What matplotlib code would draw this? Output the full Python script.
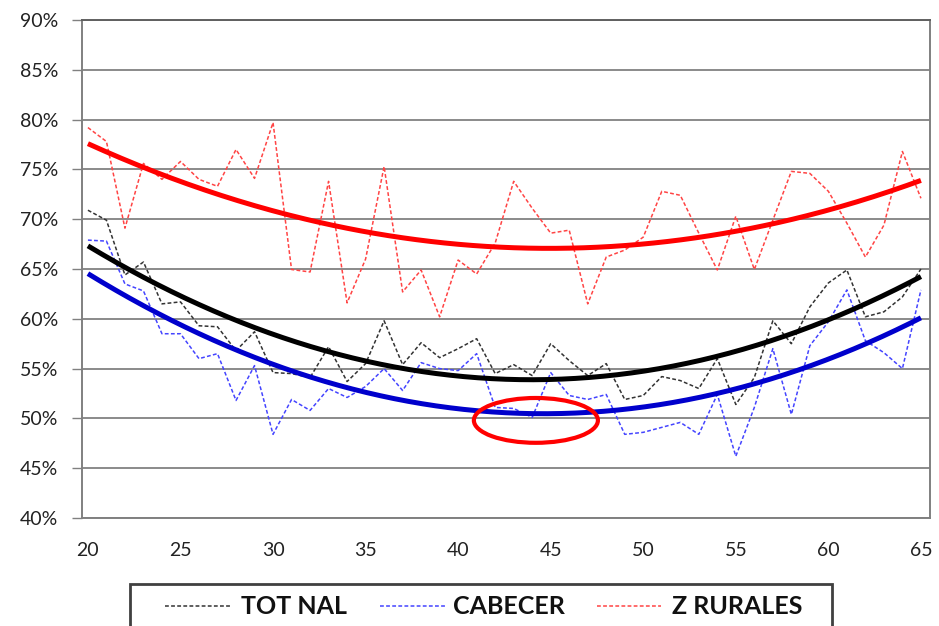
import numpy as np
import matplotlib
matplotlib.use("Agg")
import matplotlib.pyplot as plt
from matplotlib.patches import Ellipse, Rectangle
from matplotlib.lines import Line2D
from matplotlib.ticker import FuncFormatter

ages = list(range(20, 66))
tot_nal = [70.9, 69.9, 64.4, 65.7, 61.5, 61.7, 59.3, 59.2, 56.8, 58.7,
           54.6, 54.5, 54.1, 57.2, 53.7, 55.5, 59.8, 55.4, 57.6, 56.1,
           57.0, 58.0, 54.5, 55.4, 54.3, 57.5, 55.8, 54.3, 55.5, 51.9,
           52.3, 54.2, 53.8, 53.0, 56.0, 51.4, 54.1, 59.8, 57.5, 61.2,
           63.6, 64.9, 60.2, 60.7, 62.2, 65.0]
cabecer = [67.9, 67.8, 63.5, 62.8, 58.5, 58.5, 56.0, 56.5, 51.8, 55.3,
           48.4, 51.9, 50.8, 53.0, 52.1, 53.2, 55.0, 52.8, 55.6, 55.0,
           54.8, 56.5, 51.1, 51.0, 50.1, 54.6, 52.3, 51.9, 52.4, 48.4,
           48.6, 49.1, 49.6, 48.4, 52.4, 46.2, 51.1, 57.0, 50.4, 57.3,
           59.7, 62.9, 57.8, 56.6, 55.0, 62.9]
z_rurales = [79.2, 77.8, 69.1, 75.6, 74.0, 75.8, 74.0, 73.3, 77.0, 74.1,
             79.7, 64.95, 64.7, 73.8, 61.6, 66.0, 75.3, 62.7, 64.9, 60.2,
             65.9, 64.5, 67.6, 73.8, 71.1, 68.6, 68.9, 61.5, 66.2, 66.9,
             68.2, 72.8, 72.4, 68.6, 64.9, 70.3, 64.95, 69.9, 74.8, 74.6,
             72.8, 69.6, 66.2, 69.4, 76.8, 72.1]
series_names = ["TOT NAL", "CABECER", "Z RURALES"]
x_ticks = [20, 25, 30, 35, 40, 45, 50, 55, 60, 65]
y_ticks = [40, 45, 50, 55, 60, 65, 70, 75, 80, 85, 90]

dash_colors = ["#333333", "#4444ff", "#ff4444"]
trend_colors = ["#000000", "#0000cc", "#ff0000"]
FONT = ["Lato", "DejaVu Sans"]

W, H = 939, 626
fig = plt.figure(figsize=(W / 100, H / 100), dpi=100)
ax = fig.add_axes([82 / W, 1 - 518 / H, (930 - 82) / W, (518 - 20) / H])

x = np.array(ages, dtype=float)
xs = np.linspace(20, 65, 300)
dash = (0, (2.5, 1.5))
for vals, dc, tc in zip([tot_nal, cabecer, z_rurales], dash_colors, trend_colors):
    ax.plot(x, vals, color=dc, lw=1.1, ls=dash, zorder=3)
    coef = np.polyfit(x, vals, 2)
    ax.plot(xs, np.polyval(coef, xs), color=tc, lw=3.6, zorder=4,
            solid_capstyle="butt")

ax.set_xlim(19.68, 65.49)
ax.set_ylim(40, 90)
ax.set_xticks(x_ticks)
ax.set_yticks(y_ticks)
ax.yaxis.set_major_formatter(FuncFormatter(lambda v, p: f"{v:.0f}%"))
ax.grid(axis="y", color="#8a8a8a", lw=1.4)
ax.set_axisbelow(True)
for s in ax.spines.values():
    s.set_color("#808080")
    s.set_linewidth(1.4)
ax.spines["top"].set_color("#606060")
ax.tick_params(axis="y", direction="out", length=7, width=1, color="#808080",
               labelsize=14, labelcolor="#222222", pad=10)
ax.tick_params(axis="x", direction="out", length=0, width=1, color="#808080",
               labelsize=14, labelcolor="#222222", pad=17)
for lab in ax.get_xticklabels() + ax.get_yticklabels():
    lab.set_family(FONT)

ell = Ellipse((44.2, 49.8), width=6.7, height=4.5, fill=False,
              edgecolor="#ff0000", lw=3, zorder=5)
ax.add_patch(ell)

# legend box (cut by the bottom edge of the figure, as in the reference)
def fx(px):
    return px / W

def fy(py):
    return 1 - py / H

fig.add_artist(Rectangle((fx(130), fy(650)), fx(832) - fx(130), fy(584) - fy(650),
                         transform=fig.transFigure, fill=False,
                         edgecolor="#404040", lw=2))
leg_y = 606
handle_x = [(165, 232), (380, 447), (597, 661)]
text_x = [241, 453, 672]
for name, dc, (h0, h1), tx in zip(series_names, dash_colors, handle_x, text_x):
    fig.add_artist(Line2D([fx(h0), fx(h1)], [fy(leg_y), fy(leg_y)],
                          transform=fig.transFigure, color=dc, lw=1.1, ls=dash))
    fig.text(fx(tx), fy(leg_y), name, ha="left", va="center", family=FONT,
             weight="bold", fontsize=18, color="#111111")

fig.savefig("out.png", dpi=100)
